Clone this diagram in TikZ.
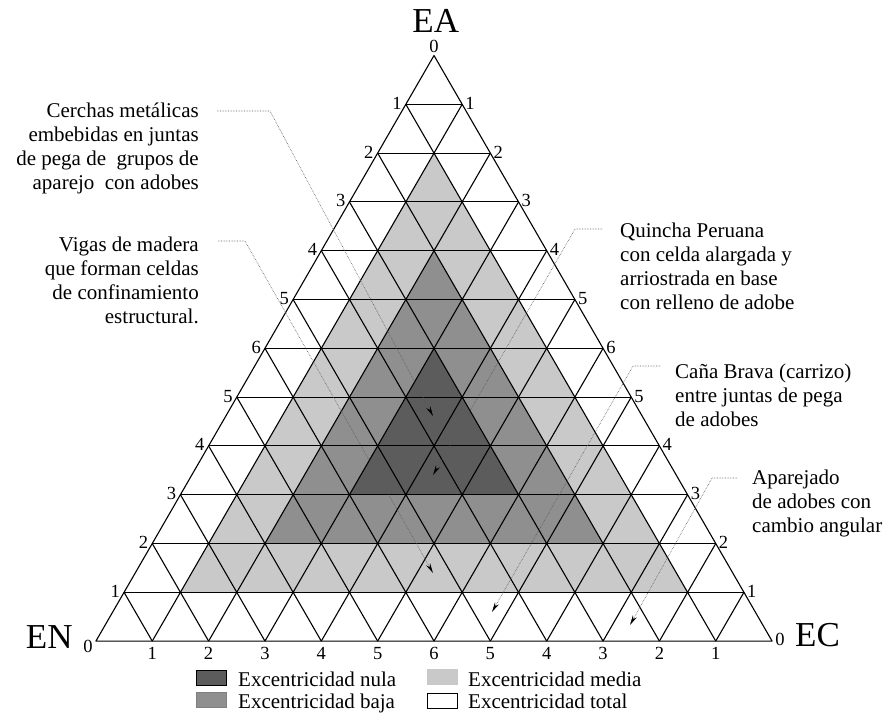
\documentclass[tikz,border=0pt]{standalone}
\usepackage{fontspec}
\setmainfont{Liberation Serif}
\usetikzlibrary{arrows.meta}
\definecolor{cdark}{gray}{0.36}
\definecolor{cmed}{gray}{0.56}
\definecolor{clight}{gray}{0.79}
\begin{document}
\begin{tikzpicture}[x=1pt,y=-1pt,
  gridline/.style={line width=1.1pt, black, line join=round},
  num/.style={font=\fontsize{18.5}{20}\selectfont, inner sep=0pt},
  big/.style={font=\fontsize{35}{40}\selectfont, inner sep=0pt},
  note/.style={font=\fontsize{21}{24}\selectfont, inner sep=0pt},
  leader/.style={densely dotted, line width=0.6pt, black!65, -{Stealth[length=10pt,width=4.5pt,black]}},
  swatchbox/.style={minimum width=30pt, minimum height=15pt, inner sep=0pt, line width=0.7pt}
]
\useasboundingbox (0,0) rectangle (889,715);
\fill[white] (0,0) rectangle (889,715);

% vertices of the ternary grid
\foreach \r in {0,...,12}{
  \foreach \j in {0,...,\r}{
    \coordinate (v\r-\j) at ({434+(\j-\r/2)*56.35},{55.5+\r*48.8});
  }
}

% shaded zones
\fill[clight] (v2-1) -- (v11-1) -- (v11-10) -- cycle;
\fill[cmed] (v4-2) -- (v10-2) -- (v10-8) -- cycle;
\fill[cdark] (v6-3) -- (v9-3) -- (v9-6) -- cycle;

% grid
\foreach \k in {1,...,11}{
  \pgfmathtruncatemacro\m{12-\k}
  \draw[gridline] (v\k-0) -- (v\k-\k);
  \draw[gridline] (v\k-\k) -- (v12-\k);
  \draw[gridline] (v\k-0) -- (v12-\m);
}
\draw[gridline] (v0-0) -- (v12-0) -- (v12-12) -- cycle;

% scale labels
\node[num, anchor=south, yshift=2.5pt] (a0) at (v0-0) {0};
\foreach \r in {1,...,11}{
  \pgfmathtruncatemacro\v{min(\r,12-\r)}
  \node[num, anchor=east, xshift=-4pt, yshift=1pt] (l\r) at (v\r-0) {\v};
  \node[num, anchor=west, xshift=3pt, yshift=1pt] (r\r) at (v\r-\r) {\v};
  \node[num, anchor=north, yshift=-6pt] (b\r) at (v12-\r) {\v};
}
\node[num, anchor=east, xshift=-3pt, yshift=-5pt] (l12) at (v12-0) {0};
\node[num, anchor=west, xshift=3pt, yshift=1.5pt] (r12) at (v12-12) {0};

% corner titles
\node[big, anchor=base] (EA) at (435.8,32.3) {EA};
\node[big, anchor=base] (EN) at (49.2,648) {EN};
\node[big, anchor=base west] (EC) at (795,646.7) {EC};

% annotations
\node[note, anchor=north east, align=right] (n1) at (199,100) {\strut Cerchas metálicas\\embebidas en juntas\\de pega de\ \ grupos de\\aparejo\ \ con adobes};
\node[note, anchor=north east, align=right] (n2) at (199,234) {\strut Vigas de madera\\que forman celdas\\de confinamiento\\estructural.};
\node[note, anchor=north west, align=left] (n3) at (620,220) {\strut Quincha Peruana\\con celda alargada y\\arriostrada en base\\con relleno de adobe};
\node[note, anchor=north west, align=left] (n4) at (675,361.5) {\strut Caña Brava (carrizo)\\entre juntas de pega\\de adobes};
\node[note, anchor=north west, align=left] (n5) at (752,467) {\strut Aparejado\\de adobes con\\cambio angular};

% leaders
\coordinate (p1a) at (217,111); \coordinate (p1b) at (270,111); \coordinate (p1c) at (433,416);
\coordinate (p2a) at (218,241); \coordinate (p2b) at (245,241); \coordinate (p2c) at (433,573);
\coordinate (p3a) at (602,229); \coordinate (p3b) at (575,229); \coordinate (p3c) at (433,475);
\coordinate (p4a) at (660,366); \coordinate (p4b) at (633,366); \coordinate (p4c) at (492,612);
\coordinate (p5a) at (737,478); \coordinate (p5b) at (712,478); \coordinate (p5c) at (630,625);
\draw[leader] (p1a) -- (p1b) -- (p1c);
\draw[leader] (p2a) -- (p2b) -- (p2c);
\draw[leader] (p3a) -- (p3b) -- (p3c);
\draw[leader] (p4a) -- (p4b) -- (p4c);
\draw[leader] (p5a) -- (p5b) -- (p5c);

% legend
\node[swatchbox, draw=black, fill=cdark] (s1) at (211,677.5) {};
\node[swatchbox, draw=gray, fill=cmed] (s2) at (211,699.5) {};
\node[swatchbox, draw=clight, fill=clight] (s3) at (442,677) {};
\node[swatchbox, draw=black, fill=white] (s4) at (442,700.5) {};
\node[note, anchor=base west] (t1) at (238,686.5) {Excentricidad nula};
\node[note, anchor=base west] (t2) at (238,708.5) {Excentricidad baja};
\node[note, anchor=base west] (t3) at (468,686.5) {Excentricidad media};
\node[note, anchor=base west] (t4) at (468,708.5) {Excentricidad total};
\end{tikzpicture}
\end{document}
